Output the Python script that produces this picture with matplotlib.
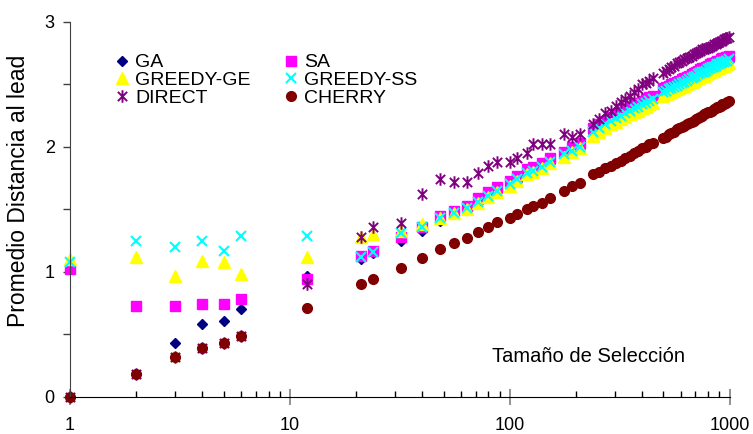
import numpy as np
import matplotlib
matplotlib.use("Agg")
import matplotlib.pyplot as plt
from matplotlib.path import Path

plt.rcParams['font.family'] = ['Liberation Sans', 'DejaVu Sans']

# tamaños de seleccion
x = [1, 2, 3, 4, 5, 6, 12, 21, 24, 32, 40, 48, 56, 64, 72, 80, 88, 100, 108,
     120, 128, 140, 152, 176, 192, 208,
     240, 256, 272, 288, 304, 320, 336, 352, 368, 384, 400, 416, 432, 448,
     496, 512, 528, 544, 560, 576, 592, 608, 624, 640, 656, 672, 688, 704,
     720, 736, 752, 768, 784, 800, 816, 832, 848, 864, 880, 896, 912, 928,
     944, 960, 976, 992]

ga = [0.00, 0.18, 0.43, 0.58, 0.61, 0.70, 0.97, 1.10, 1.15, 1.25, 1.33, 1.41, 1.46,
      1.50, 1.55, 1.60, 1.64, 1.69, 1.73, 1.78, 1.80, 1.83, 1.87, 1.93, 1.96, 1.99,
      2.11, 2.14, 2.17, 2.19, 2.22, 2.24, 2.26, 2.28, 2.30, 2.31, 2.33, 2.34, 2.36, 2.37,
      2.43, 2.44, 2.45, 2.46, 2.47, 2.48, 2.49, 2.50, 2.51, 2.52, 2.53, 2.54, 2.55, 2.56,
      2.57, 2.58, 2.58, 2.59, 2.60, 2.61, 2.62, 2.62, 2.63, 2.64, 2.64, 2.65, 2.66, 2.66,
      2.67, 2.68, 2.68, 2.69]

sa = [1.02, 0.73, 0.73, 0.745, 0.745, 0.78, 0.94, 1.13, 1.17, 1.28, 1.36, 1.45, 1.49,
      1.53, 1.59, 1.64, 1.68, 1.73, 1.77, 1.82, 1.84, 1.87, 1.91, 1.96, 2.00, 2.03,
      2.15, 2.18, 2.21, 2.24, 2.26, 2.28, 2.30, 2.32, 2.34, 2.35, 2.37, 2.38, 2.40, 2.41,
      2.47, 2.48, 2.49, 2.50, 2.51, 2.52, 2.53, 2.54, 2.55, 2.56, 2.57, 2.58, 2.59, 2.60,
      2.61, 2.62, 2.63, 2.63, 2.64, 2.65, 2.66, 2.67, 2.67, 2.68, 2.69, 2.69, 2.70, 2.71,
      2.71, 2.72, 2.72, 2.73]

greedy_ge = [1.10, 1.12, 0.97, 1.09, 1.08, 0.98, 1.12, 1.28, 1.30, 1.33, 1.38, 1.43, 1.47,
             1.50, 1.55, 1.60, 1.64, 1.69, 1.73, 1.78, 1.80, 1.83, 1.87, 1.92, 1.96, 1.99,
             2.09, 2.12, 2.15, 2.18, 2.20, 2.22, 2.24, 2.26, 2.28, 2.29, 2.31, 2.32, 2.34, 2.35,
             2.41, 2.42, 2.43, 2.44, 2.45, 2.46, 2.47, 2.48, 2.49, 2.50, 2.51, 2.52, 2.53, 2.54,
             2.55, 2.56, 2.57, 2.57, 2.58, 2.59, 2.60, 2.61, 2.61, 2.62, 2.63, 2.63, 2.64, 2.65,
             2.65, 2.66, 2.66, 2.67]

greedy_ss = [1.08, 1.25, 1.20, 1.25, 1.17, 1.29, 1.29, 1.12, 1.16, 1.31, 1.36, 1.43, 1.47,
             1.51, 1.56, 1.61, 1.65, 1.70, 1.74, 1.79, 1.81, 1.84, 1.88, 1.94, 1.97, 2.00,
             2.12, 2.15, 2.18, 2.21, 2.23, 2.25, 2.27, 2.29, 2.31, 2.32, 2.34, 2.35, 2.37, 2.38,
             2.44, 2.45, 2.46, 2.47, 2.48, 2.49, 2.50, 2.51, 2.52, 2.53, 2.54, 2.55, 2.56, 2.57,
             2.58, 2.59, 2.60, 2.60, 2.61, 2.62, 2.63, 2.64, 2.64, 2.65, 2.66, 2.66, 2.67, 2.68,
             2.68, 2.69, 2.69, 2.70]

direct = [0.00, 0.18, 0.32, 0.39, 0.43, 0.49, 0.90, 1.28, 1.36, 1.39, 1.62, 1.74, 1.72,
          1.72, 1.79, 1.85, 1.88, 1.88, 1.91, 1.95, 2.02, 2.02, 2.02, 2.10, 2.08, 2.10,
          2.18, 2.22, 2.27, 2.29, 2.33, 2.36, 2.38, 2.41, 2.44, 2.46, 2.50, 2.51, 2.53, 2.55,
          2.59, 2.61, 2.62, 2.64, 2.65, 2.67, 2.68, 2.69, 2.70, 2.71, 2.72, 2.73, 2.74, 2.75,
          2.76, 2.77, 2.78, 2.78, 2.79, 2.79, 2.80, 2.81, 2.82, 2.82, 2.83, 2.84, 2.85, 2.85,
          2.86, 2.87, 2.87, 2.88]

cherry = [0.00, 0.18, 0.32, 0.39, 0.43, 0.49, 0.71, 0.90, 0.94, 1.03, 1.11, 1.18, 1.23,
          1.27, 1.32, 1.36, 1.40, 1.43, 1.46, 1.50, 1.53, 1.55, 1.59, 1.65, 1.69, 1.71,
          1.78, 1.80, 1.83, 1.85, 1.87, 1.89, 1.91, 1.93, 1.95, 1.97, 1.99, 2.00, 2.02, 2.03,
          2.07, 2.08, 2.10, 2.11, 2.12, 2.14, 2.15, 2.16, 2.17, 2.18, 2.19, 2.20, 2.21, 2.22,
          2.23, 2.24, 2.25, 2.26, 2.27, 2.28, 2.28, 2.29, 2.30, 2.31, 2.32, 2.32, 2.33, 2.34,
          2.34, 2.35, 2.36, 2.37]

# asterisco: una x con una barra vertical
star = Path([(-1, -1), (1, 1), (-1, 1), (1, -1), (0, -1.35), (0, 1.35)],
            [Path.MOVETO, Path.LINETO] * 3)

series = [
    ('GA', ga, dict(marker='D', ms=5.5, color='#000080', mec='#000080')),
    ('SA', sa, dict(marker='s', ms=6.5, color='#FF00FF', mec='#FF00FF')),
    ('GREEDY-GE', greedy_ge, dict(marker='^', ms=8, color='#FFFF00', mec='#FFFF00')),
    ('GREEDY-SS', greedy_ss, dict(marker='x', ms=7.5, mew=1.5, color='#00FFFF')),
    ('DIRECT', direct, dict(marker=star, ms=9, mew=1.4, color='#800080', mfc='none')),
    ('CHERRY', cherry, dict(marker='o', ms=7, color='#800000', mec='#800000')),
]

fig = plt.figure(figsize=(7.53, 4.34), dpi=100)
ax = fig.add_axes([0.093, 0.0853, 0.8758, 0.8641])

handles = {}
for name, y, kw in series:
    h, = ax.plot(x, y, ls='none', label=name, clip_on=False, **kw)
    handles[name] = h

ax.set_xscale('log')
ax.set_xlim(1, 1000)
ax.set_ylim(0, 3)

ax.spines['top'].set_visible(False)
ax.spines['right'].set_visible(False)
ax.spines['left'].set_color('#404040')

ax.set_yticks([0, 1, 2, 3])
ax.set_yticks([0.5, 1.5, 2.5], minor=True)
ax.tick_params(axis='y', which='both', direction='out', length=5, width=1,
               color='#404040', labelsize=13, pad=6)
ax.set_xticks([1, 10, 100, 1000])
ax.set_xticklabels(['1', '10', '100', '1000'])
ax.tick_params(axis='x', which='major', direction='inout', length=11, width=1.2,
               color='#808080', labelsize=13, pad=9)
ax.tick_params(axis='x', which='minor', direction='in', length=4, width=1, color='black')
ax.xaxis.set_minor_formatter(matplotlib.ticker.NullFormatter())

order = ['GA', 'GREEDY-GE', 'DIRECT', 'SA', 'GREEDY-SS', 'CHERRY']
ax.legend(handles=[handles[n] for n in order], ncol=2, loc='upper left',
          bbox_to_anchor=(0.069, 0.915), frameon=False, fontsize=14,
          numpoints=1, handlelength=0.65, handletextpad=0.35, columnspacing=1.75,
          labelspacing=0.0, borderpad=0, borderaxespad=0)

ax.text(0.64, 0.093, 'Tamaño de Selección', transform=ax.transAxes,
        fontsize=14.5, ha='left', va='baseline')
fig.text(0.025, 0.561, 'Promedio Distancia al lead', rotation=90,
         fontsize=16.5, ha='center', va='center')

fig.savefig('out.png', dpi=100)
